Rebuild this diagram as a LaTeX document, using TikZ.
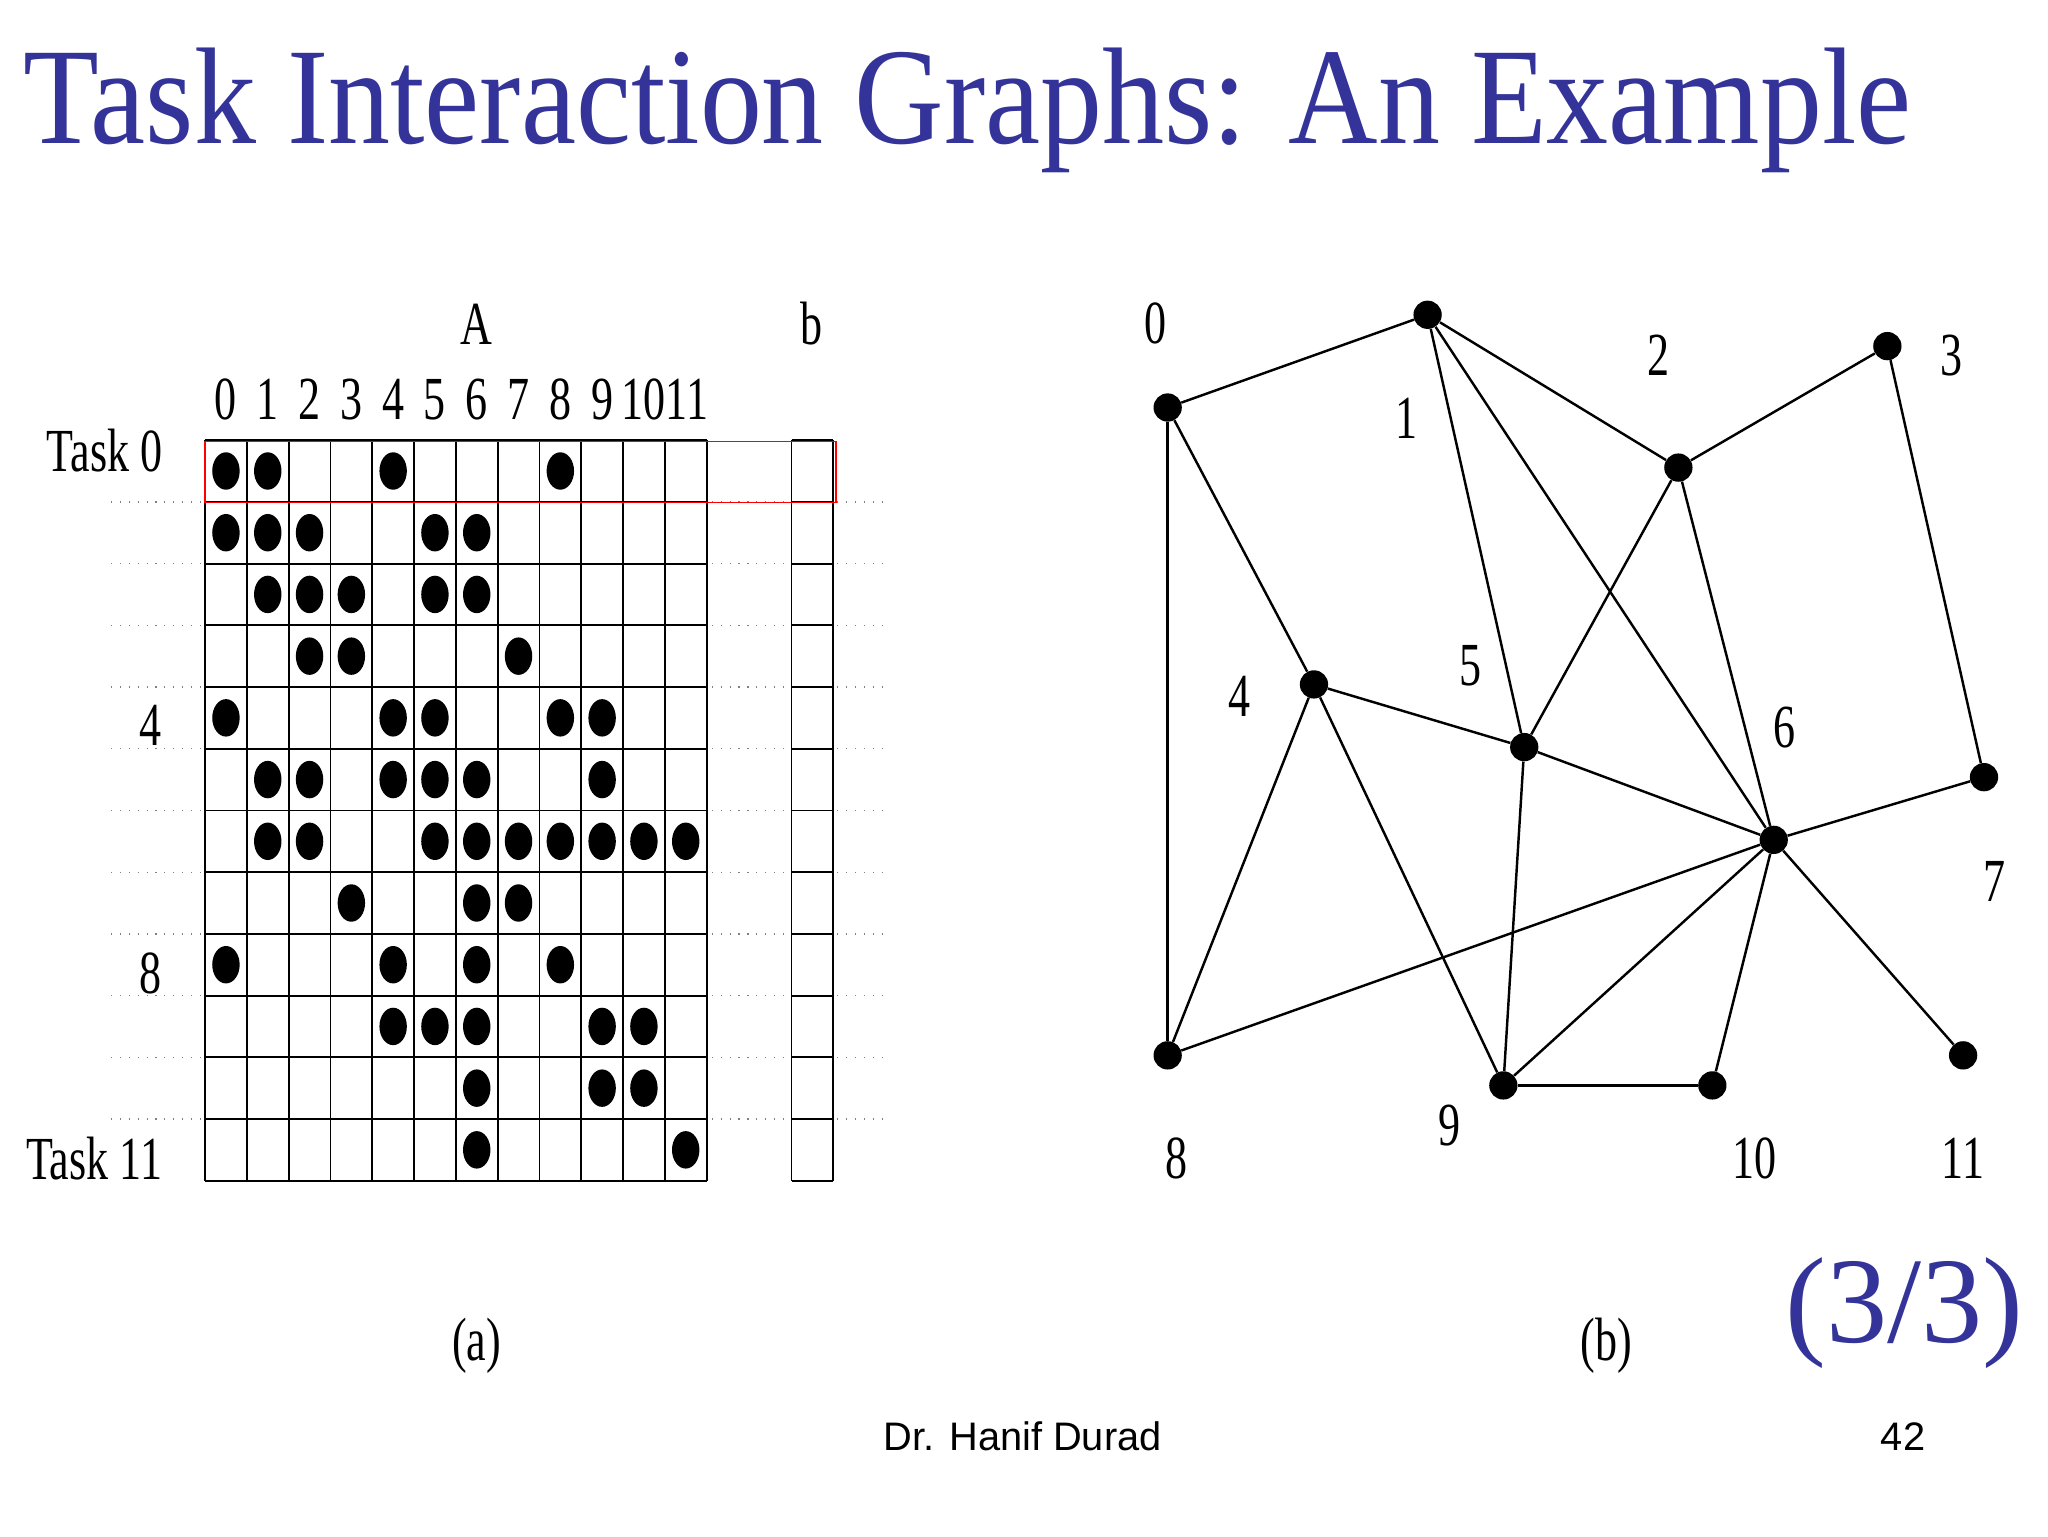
\documentclass[tikz,border=0pt]{standalone}
\usepackage{fontspec}
\usetikzlibrary{shapes.geometric}
\setmainfont{Liberation Serif}
\setsansfont{Liberation Sans}
\definecolor{titleblue}{RGB}{51,51,153}
\begin{document}
\begin{tikzpicture}[x=0.3mm,y=-0.3mm,
  lbl/.style={font=\fontsize{40}{40}\selectfont,xscale=0.72,inner sep=0},
  dot/.style={fill=black,ellipse,minimum width=6.3mm,minimum height=8.6mm,inner sep=0},
  gnode/.style={fill=black,circle,minimum width=6.5mm,inner sep=0},
  grid/.style={line width=1.2pt},
  dotline/.style={line width=0.8pt,gray,dash pattern=on 0.8pt off 5pt}]
\useasboundingbox (0,0) rectangle (1568,1176);
\node[anchor=base west,text=titleblue,font=\fontsize{90}{90}\selectfont,inner sep=0,xscale=0.9] (title) at (18,110) {Task Interaction Graphs: An Example};
% matrix
\foreach \i in {0,...,12} {\draw[grid] (157+32*\i,337) -- (157+32*\i,904);}
\foreach \j in {0,...,12} {\draw[grid] (157,337+47.25*\j) -- (541,337+47.25*\j);
  \draw[grid] (606,337+47.25*\j) -- (638,337+47.25*\j);}
\draw[grid] (606,337) -- (606,904); \draw[grid] (638,337) -- (638,904);
\foreach \j in {1,...,11} {
  \draw[dotline] (85,337+47.25*\j) -- (155,337+47.25*\j);
  \draw[dotline] (545,337+47.25*\j) -- (604,337+47.25*\j);
  \draw[dotline] (641,337+47.25*\j) -- (680,337+47.25*\j);}
\draw[red,line width=0.8pt] (157,338) rectangle (640,385);
\foreach \r/\cs in {0/{0,1,4,8},1/{0,1,2,5,6},2/{1,2,3,5,6},3/{2,3,7},4/{0,4,5,8,9},5/{1,2,4,5,6,9},6/{1,2,5,6,7,8,9,10,11},7/{3,6,7},8/{0,4,6,8},9/{4,5,6,9,10},10/{6,9,10},11/{6,11}} {
  \foreach \c in \cs {\node[dot] at (173+32*\c,360.6+47.25*\r) {};}}
\foreach \c in {0,...,9} {\node[lbl] at (173+32*\c,306) {\c};}
\node[lbl] at (509,306) {1011};
\node[lbl] (A) at (365,248) {A};
\node[lbl] (bb) at (621,248) {b};
\node[lbl] (t0) at (80,345) {Task 0};
\node[lbl] (t4) at (115,555) {4};
\node[lbl] (t8) at (115,745) {8};
\node[lbl] (t11) at (72,887) {Task 11};
\node[lbl] (capa) at (365,1030) {(a)};
\node[lbl] (capb) at (1230,1030) {(b)};
% graph
\foreach \n/\x/\y in {0/894/312,1/1093/241,2/1285/358,3/1445/265,4/1006/524,5/1167/572,6/1358/643,7/1519/595,8/894/808,9/1151/831,10/1311/831,11/1503/808}
  {\node[gnode] (n\n) at (\x,\y) {};}
\foreach \a/\b in {0/1,0/4,0/8,1/2,1/5,1/6,2/3,2/5,2/6,3/7,4/5,4/8,4/9,5/6,5/9,6/7,6/8,6/9,6/10,6/11,9/10}
  {\draw[line width=1.6pt] (n\a) -- (n\b);}
\foreach \n/\x/\y in {0/885/248,1/1077/320,2/1270/272,3/1494/272,4/949/533,5/1126/510,6/1366/557,7/1527/675,8/901/887,9/1110/862,10/1343/887,11/1503/887}
  {\node[lbl] (l\n) at (\x,\y) {\n};}
\node[text=titleblue,font=\fontsize{80}{80}\selectfont,inner sep=0] (pg) at (1458,1005) {(3/3)};
\node[font=\sffamily\fontsize{26}{26}\selectfont,inner sep=0] (auth) at (783,1100) {Dr. Hanif Durad};
\node[font=\sffamily\fontsize{26}{26}\selectfont,inner sep=0] (num) at (1457,1100) {42};
\end{tikzpicture}
\end{document}
